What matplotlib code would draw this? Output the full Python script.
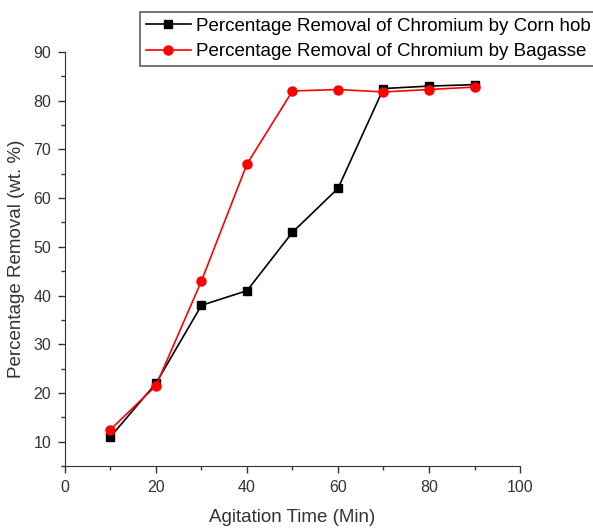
import matplotlib.pyplot as plt
from matplotlib.ticker import MultipleLocator

plt.rcParams['font.family'] = ['Liberation Sans', 'DejaVu Sans']

time_min = [10, 20, 30, 40, 50, 60, 70, 80, 90]
corn_hob = [11, 22, 38, 41, 53, 62, 82.5, 83, 83.3]
bagasse = [12.5, 21.5, 43, 67, 82, 82.3, 81.8, 82.3, 82.8]

fig = plt.figure(figsize=(5.93, 5.29), dpi=100)
ax = fig.add_axes([0.1096, 0.119, 0.7673, 0.7827])

ax.plot(time_min, corn_hob, color='black', marker='s', markersize=6, lw=1.2,
        label='Percentage Removal of Chromium by Corn hob')
ax.plot(time_min, bagasse, color='red', marker='o', markersize=6.5, lw=1.2,
        label='Percentage Removal of Chromium by Bagasse')

ax.set_xlim(0, 100)
ax.set_ylim(5, 90)
ax.xaxis.set_major_locator(MultipleLocator(20))
ax.xaxis.set_minor_locator(MultipleLocator(10))
ax.yaxis.set_major_locator(MultipleLocator(10))
ax.yaxis.set_minor_locator(MultipleLocator(5))
ax.tick_params(which='major', direction='out', length=5, width=1, labelsize=11.5,
               colors='#333333', pad=5)
ax.tick_params(which='minor', direction='out', length=3, width=1, colors='#333333')
for s in ['top', 'right']:
    ax.spines[s].set_visible(False)
for s in ['left', 'bottom']:
    ax.spines[s].set_color('#333333')

ax.set_xlabel('Agitation Time (Min)', fontsize=13.5, color='#333333', labelpad=10)
ax.set_ylabel('Percentage Removal (wt. %)', fontsize=13.5, color='#333333', labelpad=6)

leg = fig.legend(loc='upper left', bbox_to_anchor=(140 / 593, 1 - 12 / 529),
                 fontsize=13.5, frameon=True, fancybox=False, edgecolor='#333333',
                 handlelength=2.4, handletextpad=0.3, borderpad=0.3, labelspacing=0.45,
                 borderaxespad=0)
leg.get_frame().set_linewidth(1.2)

fig.savefig('out.png', dpi=100)
